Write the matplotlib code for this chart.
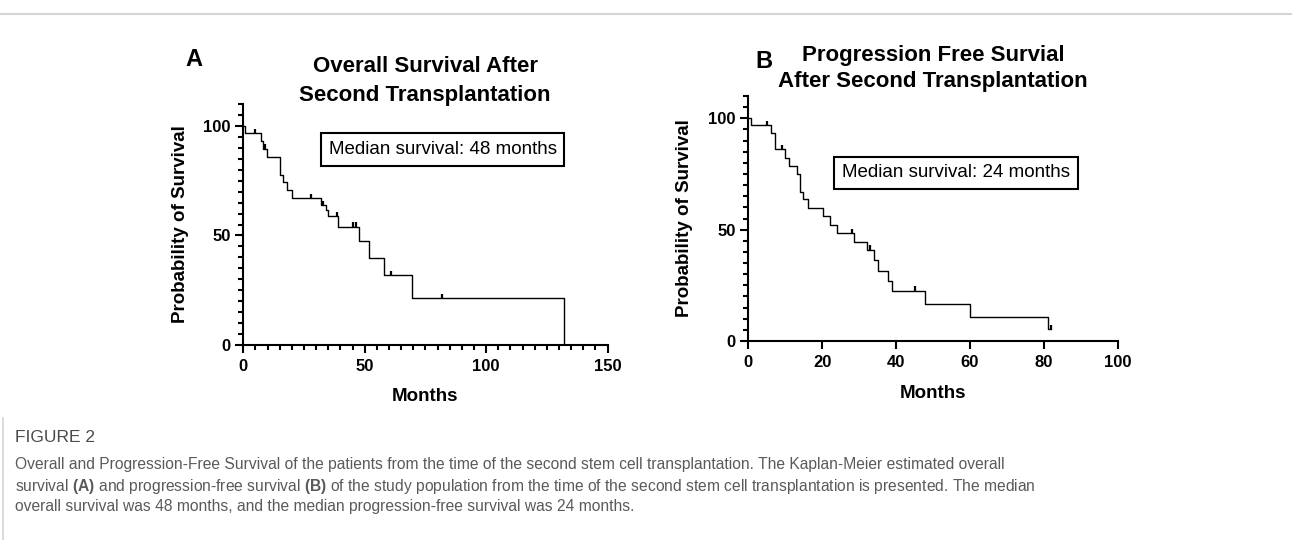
import numpy as np
import matplotlib.pyplot as plt
from matplotlib.lines import Line2D
from matplotlib.ticker import MultipleLocator

plt.rcParams['font.family'] = ['Liberation Sans', 'DejaVu Sans']
plt.rcParams['mathtext.fontset'] = 'custom'
plt.rcParams['mathtext.rm'] = 'Liberation Sans'
plt.rcParams['mathtext.bf'] = 'Liberation Sans:bold'

# Panel A: overall survival, step times (months) and % surviving
os_times = [0, 0.8, 7.3, 8.2, 9.9, 15.1, 16.2, 17.8, 19.9, 32.0, 34.0, 34.8,
            39.1, 47.8, 51.9, 58.0, 69.3, 132.1]
os_surv = [100, 96.6, 93.1, 89.6, 85.8, 77.6, 74.6, 70.8, 67.0, 63.9, 61.5, 58.9,
           54.0, 47.5, 39.6, 31.8, 21.5, 0]
os_cens = [4.9, 8.9, 27.9, 32.9, 38.4, 45.0, 46.6, 61.0, 82.0]
os_end = 132.1

# Panel B: progression free survival
pfs_times = [0, 0.7, 6.1, 7.1, 9.9, 11.1, 13.1, 14.0, 14.9, 16.1, 20.2, 22.1,
             24.1, 28.5, 32.1, 33.9, 35.0, 37.9, 39.0, 47.9, 60.1, 81.1]
pfs_surv = [100, 97.0, 93.5, 86.1, 82.0, 78.6, 74.9, 67.0, 63.6, 59.9, 56.1, 52.1,
            48.4, 44.6, 40.9, 36.4, 31.4, 26.9, 22.5, 16.8, 10.9, 5.3]
pfs_cens = [5.0, 9.0, 28.0, 33.0, 45.0, 82.0]
pfs_end = 82.0


def km_panel(ax, times, surv, cens, end):
    t = np.array(times + ([end] if end > times[-1] else []), dtype=float)
    s = np.array(surv + ([surv[-1]] if end > times[-1] else []), dtype=float)
    ax.step(t, s, where='post', color='black', lw=1.0)
    # censor ticks sit on the curve
    idx = np.searchsorted(times, cens, side='right') - 1
    cy = np.array(surv)[idx]
    ax.vlines(cens, cy, cy + 2.0, color='black', lw=1.6)
    ax.set_ylim(0, 110)
    ax.yaxis.set_major_locator(MultipleLocator(50))
    ax.yaxis.set_minor_locator(MultipleLocator(5))
    for sp in ['top', 'right']:
        ax.spines[sp].set_visible(False)
    for sp in ['left', 'bottom']:
        ax.spines[sp].set_linewidth(1.5)
    ax.tick_params(which='major', length=6, width=1.5, labelsize=12)
    ax.tick_params(which='minor', length=3.5, width=1.5)
    ax.tick_params(axis='x', pad=4)
    ax.tick_params(axis='y', pad=3)
    for lab in ax.get_xticklabels() + ax.get_yticklabels():
        lab.set_fontweight('bold')
    ax.set_ylabel('Probability of Survival', fontsize=13.5, fontweight='bold')
    ax.set_xlabel('Months', fontsize=13.5, fontweight='bold')
    ax.yaxis.set_label_coords(-0.15, 0.5)
    ax.xaxis.set_label_coords(0.5, -0.18)


fig = plt.figure(figsize=(12.92, 5.4), dpi=100)

axA = fig.add_axes([0.1883, 0.3611, 0.2820, 0.4463])
axA.set_xlim(0, 150)
axA.xaxis.set_major_locator(MultipleLocator(50))
axA.xaxis.set_minor_locator(MultipleLocator(5))
km_panel(axA, os_times, os_surv, os_cens, os_end)
axA.text(0.547, 0.811, 'Median survival: 48 months', transform=axA.transAxes,
         ha='center', va='center', fontsize=13.5,
         bbox=dict(boxstyle='square,pad=0.42', fc='white', ec='black', lw=1.5))

axB = fig.add_axes([0.5792, 0.3685, 0.2859, 0.4537])
axB.set_xlim(0, 100)
axB.xaxis.set_major_locator(MultipleLocator(20))
km_panel(axB, pfs_times, pfs_surv, pfs_cens, pfs_end)
axB.text(0.562, 0.686, 'Median survival: 24 months', transform=axB.transAxes,
         ha='center', va='center', fontsize=13.5,
         bbox=dict(boxstyle='square,pad=0.42', fc='white', ec='black', lw=1.5))

W, H = 1292, 540


def ftext(x, y, s, **kw):
    return fig.text(x / W, 1 - y / H, s, **kw)


# panel letters and titles
ftext(194, 60, 'A', fontsize=17, fontweight='bold', ha='center', va='center')
ftext(764, 62, 'B', fontsize=17, fontweight='bold', ha='center', va='center')
ftext(425, 66, 'Overall Survival After', fontsize=16, fontweight='bold', ha='center', va='center')
ftext(425, 95, 'Second Transplantation', fontsize=16, fontweight='bold', ha='center', va='center')
ftext(933, 55, 'Progression Free Survial', fontsize=16, fontweight='bold', ha='center', va='center')
ftext(933, 82, 'After Second Transplantation', fontsize=16, fontweight='bold', ha='center', va='center')

# page decorations
fig.add_artist(Line2D([0, 1], [1 - 14 / H] * 2, color='#d4d4d4', lw=1.5, transform=fig.transFigure))
fig.add_artist(Line2D([3 / W] * 2, [1 - 418 / H, 0], color='#d4d4d4', lw=1.2, transform=fig.transFigure))

# caption
cap_color = '#5a5a5a'
ftext(15, 437, 'FIGURE 2', fontsize=12.5, color='#4a4a4a', ha='left', va='center')
cap_lines = [
    'Overall and Progression-Free Survival of the patients from the time of the second stem cell '
    'transplantation. The Kaplan-Meier estimated overall',
    r'survival $\mathbf{(A)}$ and progression-free survival $\mathbf{(B)}$ of the study population '
    'from the time of the second stem cell transplantation is presented. The median',
    'overall survival was 48 months, and the median progression-free survival was 24 months.',
]
for i, line in enumerate(cap_lines):
    ftext(15, 465 + 21 * i, line, fontsize=11.25, color=cap_color, ha='left', va='center')

fig.savefig('out.png', dpi=100)
